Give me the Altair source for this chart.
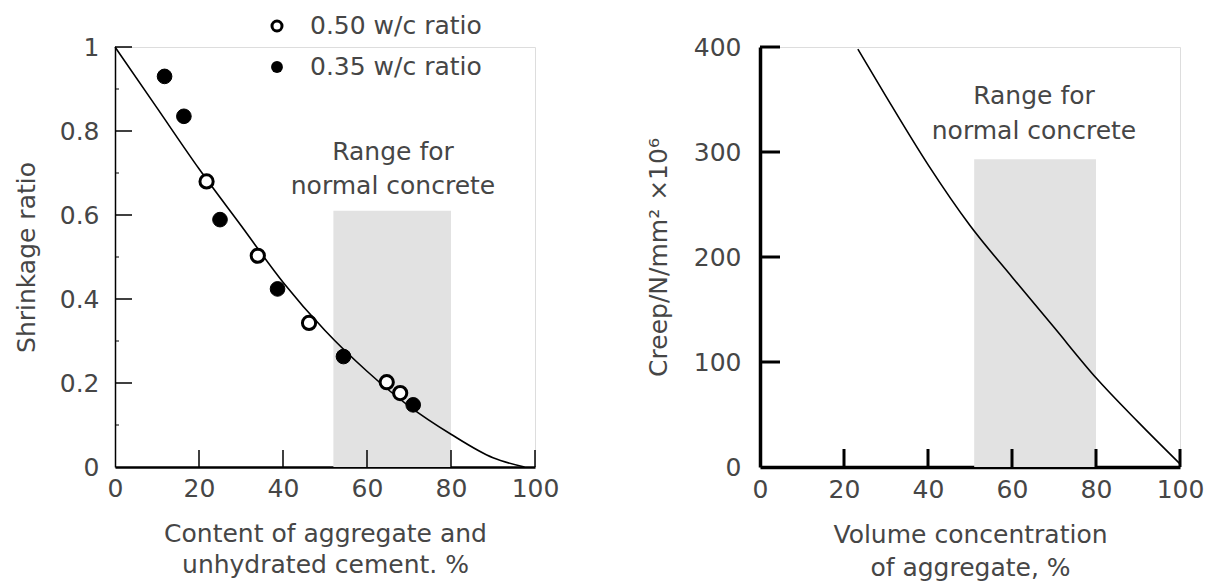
import altair as alt
import pandas as pd

FONT = "DejaVu Sans"
TXT = "#464646"

# ---------------- left panel data ----------------
w35_x = [11.8, 16.4, 25.0, 38.7, 54.4, 71.0]
w35_y = [0.930, 0.835, 0.589, 0.424, 0.263, 0.148]
w50_x = [21.8, 34.0, 46.2, 64.7, 67.9]
w50_y = [0.680, 0.503, 0.343, 0.202, 0.176]
shr_curve_x = [0, 10, 20, 30, 40, 50, 60, 70, 80, 90, 97.5]
shr_curve_y = [1.0, 0.855, 0.71, 0.575, 0.44, 0.325, 0.228, 0.145, 0.078, 0.022, 0.0]
shr_band_x = [52, 80]
shr_band_top = 0.61
shr_yticks = [0, 0.2, 0.4, 0.6, 0.8, 1.0]
shr_minor = [0.1, 0.3, 0.5, 0.7, 0.9]
shr_xticks = [0, 20, 40, 60, 80, 100]
legend_labels = ["0.50 w/c ratio", "0.35 w/c ratio"]

# ---------------- right panel data ----------------
creep_curve_x = [23.3, 30, 40, 50, 60, 70, 80, 90, 100]
creep_curve_y = [398, 353, 288, 230, 181, 133, 85, 43, 3]
creep_band_x = [51, 80]
creep_band_top = 293
creep_yticks = [0, 100, 200, 300, 400]
creep_xticks = [0, 20, 40, 60, 80, 100]

annotation = ["Range for", "normal concrete"]

W, H = 420, 420


def axis_common(**kw):
    base = dict(
        grid=False, ticks=False, labelFont=FONT, labelFontSize=25, labelColor=TXT,
        titleFont=FONT, titleFontSize=25, titleFontWeight="normal", titleColor=TXT,
        domainColor="black", labelFlush=False, labelOverlap=False,
    )
    base.update(kw)
    return alt.Axis(**base)


def one(text):
    return pd.DataFrame({"t": [text]})


# ================= LEFT =================
LX = alt.X("x:Q", scale=alt.Scale(domain=[0, 100], nice=False, zero=False),
           axis=axis_common(values=shr_xticks, title=["Content of aggregate and", "unhydrated cement. %"],
                            labelPadding=9, titlePadding=20, titleLineHeight=31, domainWidth=2.5))
LY = alt.Y("y:Q", scale=alt.Scale(domain=[0, 1], nice=False),
           axis=axis_common(values=shr_yticks, format="~g", title="Shrinkage ratio",
                            labelPadding=16, titlePadding=20, domainWidth=1.5))

band_l = alt.Chart(pd.DataFrame({"x": [shr_band_x[0]], "x2": [shr_band_x[1]], "y": [0], "y2": [shr_band_top]})) \
    .mark_rect(color="#e2e2e2").encode(x=LX, x2="x2:Q", y=LY, y2="y2:Q")
curve_l = alt.Chart(pd.DataFrame({"x": shr_curve_x, "y": shr_curve_y})) \
    .mark_line(color="black", strokeWidth=1.6, interpolate="monotone").encode(x=LX, y=LY)
pts35 = alt.Chart(pd.DataFrame({"x": w35_x, "y": w35_y})) \
    .mark_point(shape="circle", filled=True, fill="black", stroke="black", strokeWidth=1, size=215, opacity=1) \
    .encode(x=LX, y=LY)
pts50 = alt.Chart(pd.DataFrame({"x": w50_x, "y": w50_y})) \
    .mark_point(shape="circle", filled=True, fill="white", stroke="black", strokeWidth=3, size=175, opacity=1) \
    .encode(x=LX, y=LY)
yt_l = alt.Chart(pd.DataFrame({"y": shr_yticks[1:]})) \
    .mark_rule(color="black", strokeWidth=1.5).encode(y=LY, x=alt.value(0), x2=alt.value(17))
ym_l = alt.Chart(pd.DataFrame({"y": shr_minor})) \
    .mark_rule(color="black", strokeWidth=1).encode(y=LY, x=alt.value(0), x2=alt.value(4))
xt_l = alt.Chart(pd.DataFrame({"x": shr_xticks[1:]})) \
    .mark_rule(color="black", strokeWidth=1.5).encode(x=LX, y=alt.value(H), y2=alt.value(H - 17))

leg_open = alt.Chart(one(legend_labels[0])).mark_point(
    shape="circle", filled=True, fill="white", stroke="black", strokeWidth=3, size=100, opacity=1
).encode(x=alt.value(162), y=alt.value(-21))
leg_fill = alt.Chart(one(legend_labels[1])).mark_point(
    shape="circle", filled=True, fill="black", size=140, opacity=1
).encode(x=alt.value(162), y=alt.value(20))
leg_t1 = alt.Chart(one(legend_labels[0])).mark_text(
    font=FONT, fontSize=25, color=TXT, align="left", baseline="middle"
).encode(text="t:N", x=alt.value(195), y=alt.value(-21))
leg_t2 = alt.Chart(one(legend_labels[1])).mark_text(
    font=FONT, fontSize=25, color=TXT, align="left", baseline="middle"
).encode(text="t:N", x=alt.value(195), y=alt.value(20))

ann_l1 = alt.Chart(one(annotation[0])).mark_text(
    font=FONT, fontSize=25, color=TXT, align="center", baseline="alphabetic"
).encode(text="t:N", x=alt.value(278), y=alt.value(113))
ann_l2 = alt.Chart(one(annotation[1])).mark_text(
    font=FONT, fontSize=25, color=TXT, align="center", baseline="alphabetic"
).encode(text="t:N", x=alt.value(278), y=alt.value(147))

left = alt.layer(band_l, curve_l, pts35, pts50, yt_l, ym_l, xt_l,
                 leg_open, leg_fill, leg_t1, leg_t2, ann_l1, ann_l2).properties(width=W, height=H)

# ================= RIGHT =================
RX = alt.X("x:Q", scale=alt.Scale(domain=[0, 100], nice=False, zero=False),
           axis=axis_common(values=creep_xticks, title=["Volume concentration", "of aggregate, %"],
                            labelPadding=10, titlePadding=20, titleLineHeight=33, domainWidth=3.5))
RY = alt.Y("y:Q", scale=alt.Scale(domain=[0, 400], nice=False),
           axis=axis_common(values=creep_yticks, title="Creep/N/mm² ×10⁶",
                            labelPadding=19, titlePadding=22, domainWidth=3.5))

band_r = alt.Chart(pd.DataFrame({"x": [creep_band_x[0]], "x2": [creep_band_x[1]], "y": [0], "y2": [creep_band_top]})) \
    .mark_rect(color="#e2e2e2").encode(x=RX, x2="x2:Q", y=RY, y2="y2:Q")
curve_r = alt.Chart(pd.DataFrame({"x": creep_curve_x, "y": creep_curve_y})) \
    .mark_line(color="black", strokeWidth=1.6, interpolate="monotone").encode(x=RX, y=RY)
yt_r = alt.Chart(pd.DataFrame({"y": creep_yticks[1:]})) \
    .mark_rule(color="black", strokeWidth=3).encode(y=RY, x=alt.value(0), x2=alt.value(20))
xt_r = alt.Chart(pd.DataFrame({"x": creep_xticks[1:]})) \
    .mark_rule(color="black", strokeWidth=3).encode(x=RX, y=alt.value(H), y2=alt.value(H - 18))
ann_r1 = alt.Chart(one(annotation[0])).mark_text(
    font=FONT, fontSize=25, color=TXT, align="center", baseline="alphabetic"
).encode(text="t:N", x=alt.value(274), y=alt.value(57))
ann_r2 = alt.Chart(one(annotation[1])).mark_text(
    font=FONT, fontSize=25, color=TXT, align="center", baseline="alphabetic"
).encode(text="t:N", x=alt.value(274), y=alt.value(92))

right = alt.layer(band_r, curve_r, yt_r, xt_r, ann_r1, ann_r2).properties(width=W, height=H)

chart = alt.hconcat(left, right, spacing=85).properties(
    padding={"left": 13, "top": 13, "right": 0, "bottom": 0}
).configure_view(strokeWidth=0).configure(background="white")

chart.save("out.html", embed_options={"renderer": "svg", "actions": False})
